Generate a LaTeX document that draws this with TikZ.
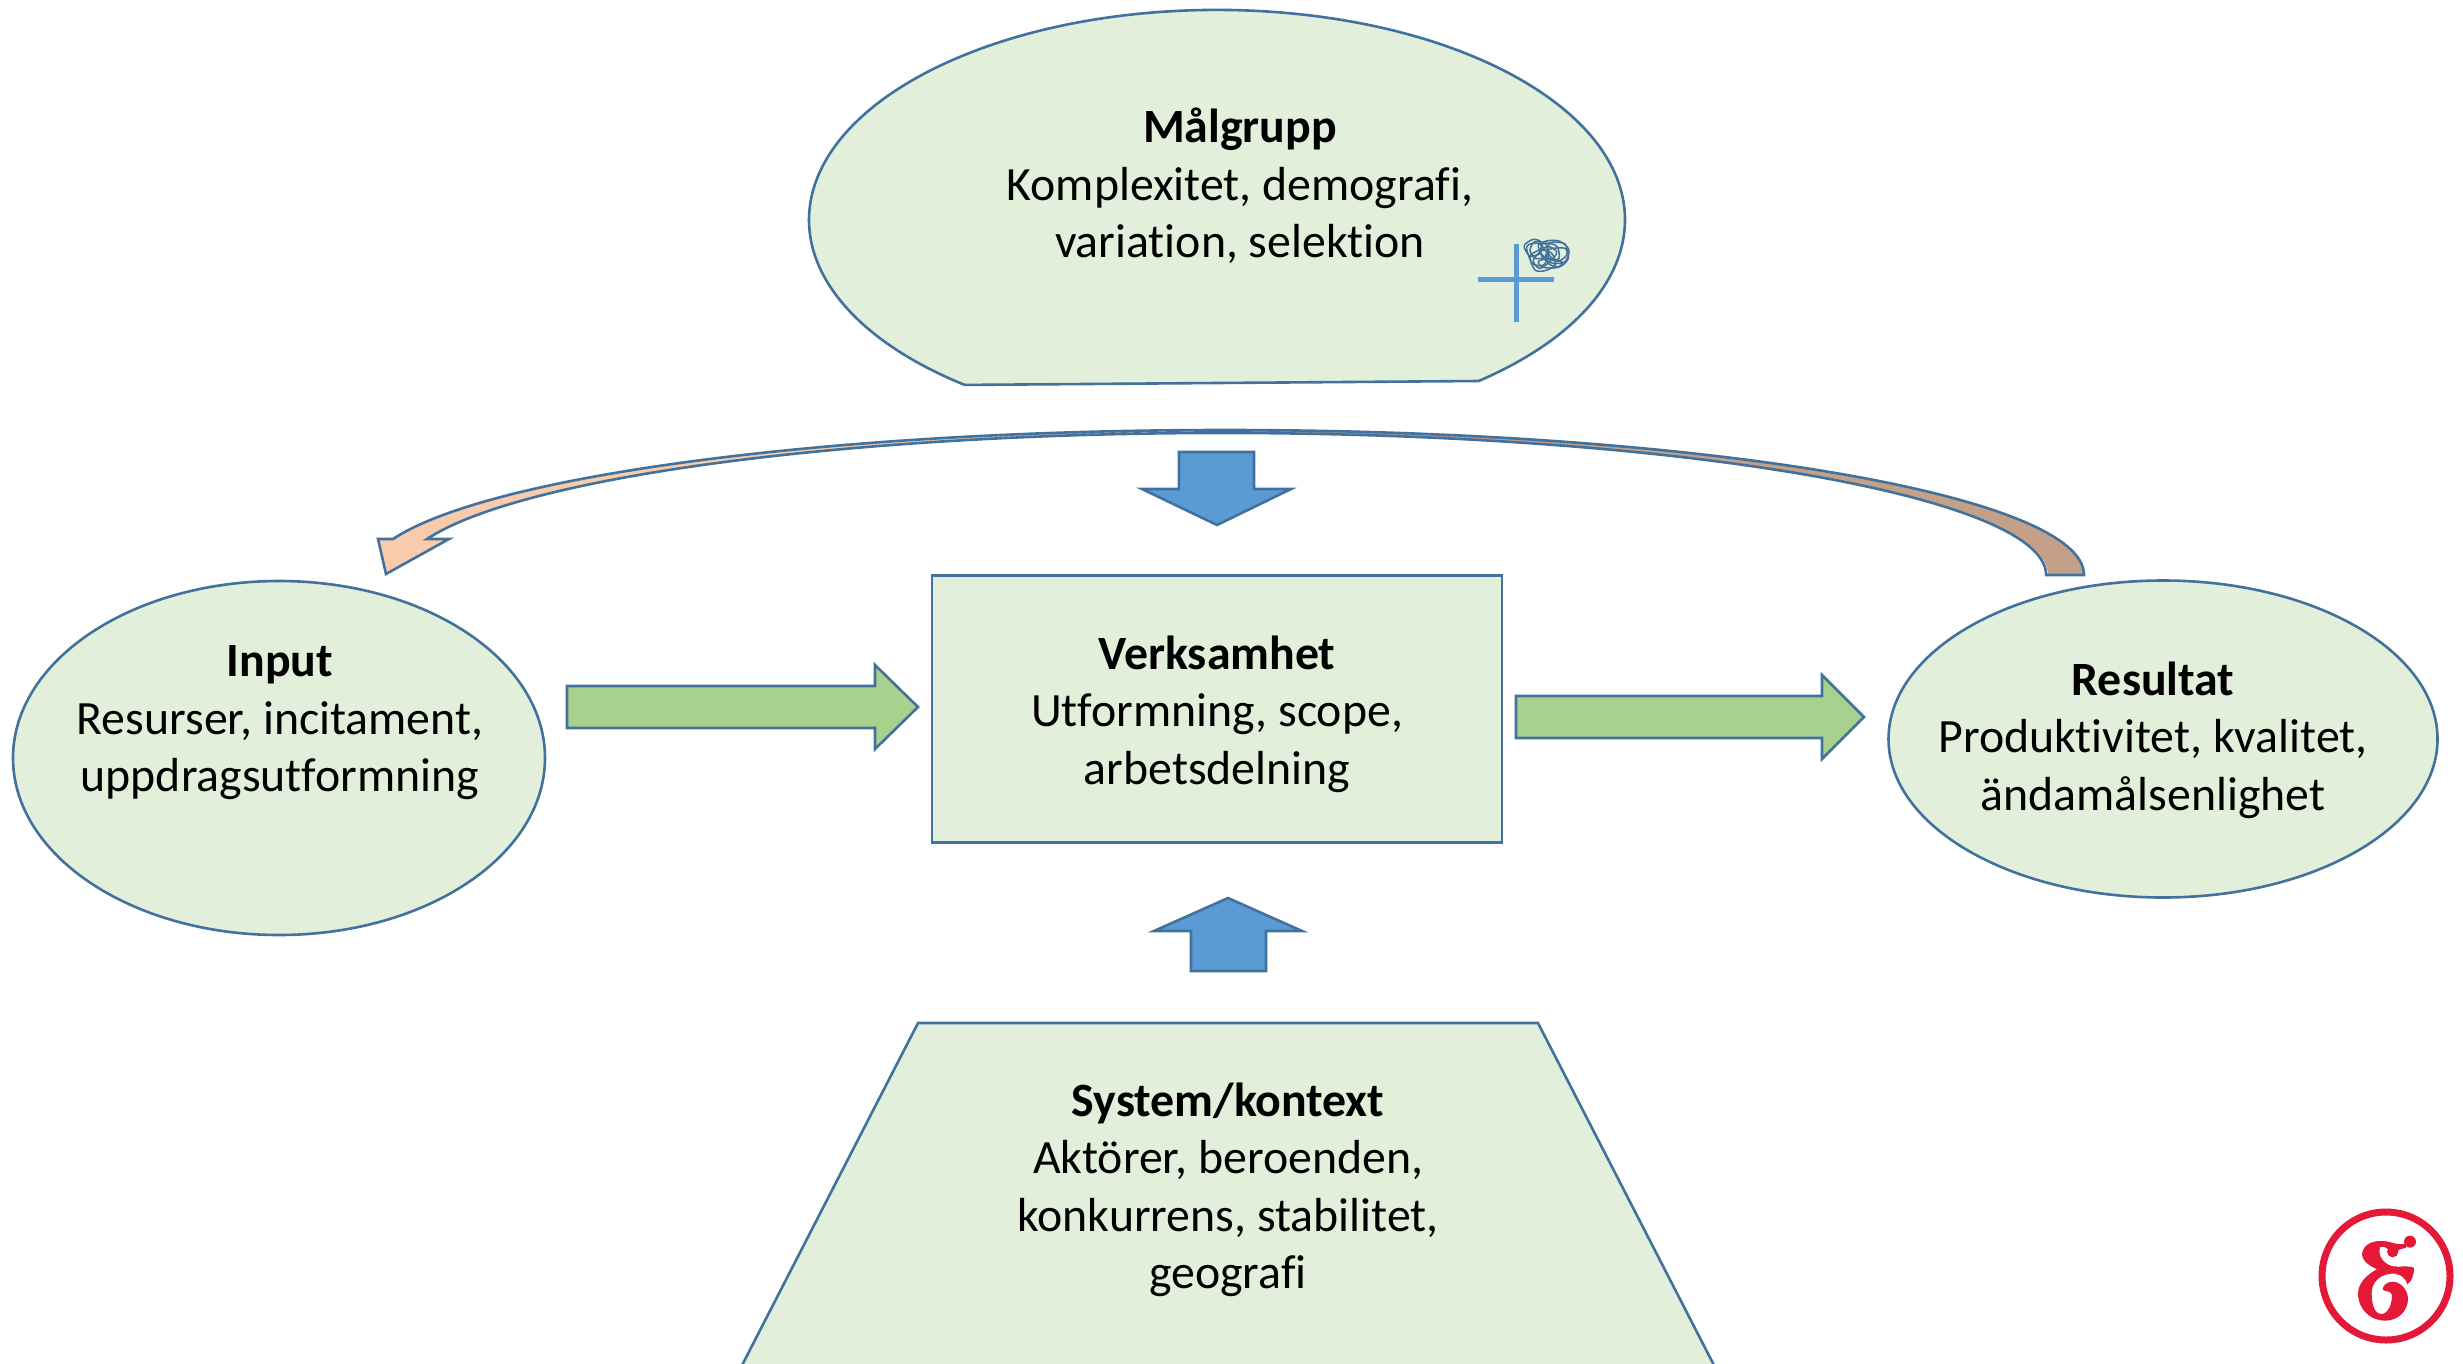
\documentclass[tikz,border=0pt]{standalone}
\usepackage{fontspec}
\setmainfont{Carlito}[Ligatures=CommonOff]
\usetikzlibrary{shapes.geometric}
\definecolor{paleg}{HTML}{E2EFDA}
\definecolor{edge}{HTML}{41719C}
\definecolor{midg}{HTML}{A9D18E}
\definecolor{blue1}{HTML}{5B9BD5}
\definecolor{peach}{HTML}{F7CBAC}
\definecolor{brownish}{HTML}{C5A088}
\definecolor{logored}{HTML}{E31937}
\tikzset{
  x=1pt,y=1pt,
  shapeline/.style={draw=edge,line width=2.6pt,line join=miter},
  palebox/.style={shapeline,fill=paleg},
  oval/.style={palebox,ellipse,inner sep=0pt,outer sep=0pt},
  greenarrow/.style={shapeline,fill=midg},
  bluearrow/.style={shapeline,fill=blue1},
  lbl/.style={align=center,text=black,inner sep=0pt,font=\fontsize{47.8}{57.5}\selectfont},
  scribble/.style={draw=edge,line width=1.5pt},
}
\begin{document}
\begin{tikzpicture}
\useasboundingbox (0,0) rectangle (2463,-1363);
% Malgrupp shape
\draw[palebox] (1478.7,-381) arc[start angle=-50.1,end angle=231.8,x radius=408,y radius=210] -- cycle;
% Input, Verksamhet, Resultat
\node[oval,minimum width=532pt,minimum height=354pt] (input) at (279,-758) {};
\node[oval,minimum width=549pt,minimum height=317pt] (resultat) at (2163,-739) {};
\node[palebox,rectangle,inner sep=0pt,minimum width=570pt,minimum height=267pt] (verk) at (1217,-709) {};
% System trapezoid (runs off the page)
\draw[palebox] (918,-1023) -- (1538,-1023) -- (1719,-1375) -- (737,-1375) -- cycle;
% green arrows
\draw[greenarrow] (567,-686) -- (875,-686) -- (875,-665) -- (918,-707) -- (875,-749) -- (875,-728) -- (567,-728) -- cycle;
\draw[greenarrow] (1516,-696) -- (1822,-696) -- (1822,-675) -- (1864,-717) -- (1822,-759) -- (1822,-738) -- (1516,-738) -- cycle;
% blue arrows
\draw[bluearrow] (1179,-452) -- (1254,-452) -- (1254,-489) -- (1291,-489) -- (1217,-525) -- (1142,-489) -- (1179,-489) -- cycle;
\draw[bluearrow] (1228,-898) -- (1302,-931) -- (1266,-931) -- (1266,-971) -- (1191,-971) -- (1191,-931) -- (1154,-931) -- cycle;
% curved arrow
\fill[brownish] (2084,-575) arc[start angle=0,end angle=90,x radius=859,y radius=145] -- (1225,-433) arc[start angle=90,end angle=0,x radius=823,y radius=142] -- cycle;
\fill[peach] (1225,-430) arc[start angle=90,end angle=165.6,x radius=859,y radius=145] -- (378,-539) -- (386,-574) -- (449,-539) -- (427,-539) arc[start angle=165.32,end angle=90,x radius=821,y radius=142] -- cycle;
\draw[shapeline] (2084,-575) arc[start angle=0,end angle=165.6,x radius=859,y radius=145] -- (378,-539) -- (386,-574) -- (449,-539) -- (427,-539) arc[start angle=165.32,end angle=0,x radius=823,y radius=142] -- cycle;
% labels
\node[lbl] (tmal) at (1240,-186) {\textbf{Målgrupp}\\Komplexitet, demografi,\\variation, selektion};
\node[lbl] (tinp) at (280,-723) {\textbf{Input}\\Resurser, incitament,\\uppdragsutformning};
\node[lbl] (tver) at (1217,-714) {\textbf{Verksamhet}\\Utformning, scope,\\arbetsdelning};
\node[lbl] (tres) at (2153,-740) {\textbf{Resultat}\\Produktivitet, kvalitet,\\ändamålsenlighet};
\node[lbl] (tsys) at (1228,-1190) {\textbf{System/kontext}\\Aktörer, beroenden,\\konkurrens, stabilitet,\\geografi};
% plus mark
\draw[draw=blue1,line width=5pt] (1516,-244) -- (1516,-322);
\draw[draw=blue1,line width=5pt] (1478,-279) -- (1554,-279);
% scribble
\begin{scope}[shift={(1515,-230)},yscale=-1,x=0.3333pt,y=0.3333pt]
\draw[scribble] plot[smooth cycle] coordinates {(28,45) (55,28) (80,38) (75,70) (45,78) (32,62)};
\draw[scribble] plot[smooth cycle] coordinates {(70,45) (100,32) (135,34) (162,60) (150,95) (115,100) (85,85)};
\draw[scribble] plot[smooth cycle] coordinates {(45,80) (75,60) (110,70) (120,105) (90,122) (60,120)};
\draw[scribble] plot[smooth cycle] coordinates {(85,40) (125,48) (132,85) (105,90) (78,70)};
\draw[scribble] plot[smooth cycle] coordinates {(100,60) (150,55) (160,85) (135,110) (100,100)};
\draw[scribble] plot[smooth cycle] coordinates {(35,50) (70,40) (100,75) (85,105) (52,100)};
\draw[scribble] plot[smooth cycle] coordinates {(55,90) (95,50) (125,65) (110,90) (75,115)};
\draw[scribble] plot[smooth cycle] coordinates {(60,35) (95,45) (90,80) (60,85) (45,60)};
\draw[scribble] plot[smooth cycle] coordinates {(105,38) (150,42) (155,75) (125,95) (100,70)};
\draw[scribble] plot[smooth cycle] coordinates {(70,95) (100,85) (140,95) (130,112) (85,112)};
\end{scope}
% logo
\node[circle,draw=logored,line width=7pt,inner sep=0pt,outer sep=0pt,minimum size=128pt] (logo) at (2386,-1276) {};
\begin{scope}[shift={(2350,-1225)},yscale=-1,x=0.3333pt,y=0.3333pt]
\fill[logored] (180,50) circle[radius=18];
\fill[logored] (128,80) circle[radius=17];
\fill[logored] (36,88) .. controls (38,60) and (65,48) .. (90,48)
  .. controls (120,46) and (135,62) .. (168,56) -- (168,68)
  .. controls (150,74) and (145,72) .. (140,80) -- (115,74)
  .. controls (108,66) and (98,63) .. (90,66)
  .. controls (84,84) and (92,105) .. (110,116)
  .. controls (120,122) and (130,126) .. (142,124) -- (120,148) -- (100,140)
  .. controls (65,128) and (38,112) .. (36,88) -- cycle;
\fill[logored] (110,120) .. controls (70,133) and (24,165) .. (24,205)
  .. controls (24,252) and (60,287) .. (105,287)
  .. controls (147,287) and (174,255) .. (174,222)
  .. controls (174,193) and (150,170) .. (128,170)
  .. controls (110,170) and (98,182) .. (98,194)
  .. controls (108,202) and (120,196) .. (125,207)
  .. controls (129,235) and (113,267) .. (95,267)
  .. controls (72,267) and (65,235) .. (65,205)
  .. controls (65,172) and (87,152) .. (120,146)
  .. controls (140,143) and (165,152) .. (172,178)
  .. controls (186,167) and (192,150) .. (192,128)
  .. controls (175,123) and (165,123) .. (140,126)
  .. controls (125,128) and (118,124) .. (110,120) -- cycle;
\end{scope}
\end{tikzpicture}
\end{document}
